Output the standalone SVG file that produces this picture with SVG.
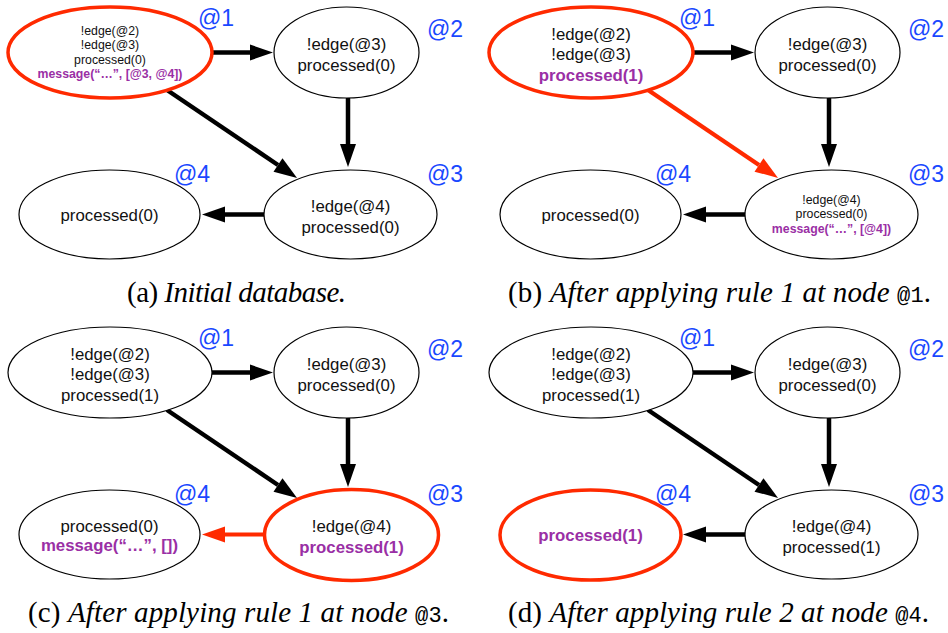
<svg xmlns="http://www.w3.org/2000/svg" width="948" height="633" viewBox="0 0 948 633">
  <style>
    .node ellipse { fill: #fff; stroke: #000; stroke-width: 1.2; }
    .node.hot ellipse { stroke: #FF2A00; stroke-width: 3.5; }
    .node text { font-family: "Liberation Sans", Arial, sans-serif; fill: #111; text-anchor: middle; }
    .big { font-size: 16.8px; }
    .small { font-size: 12.3px; }
    .node text.msg { fill: #9A2FA5; font-weight: bold; }
    .node text.lbl { font-size: 23px; fill: #1A48FF; text-anchor: start; }
    .edge { stroke: #000; stroke-width: 4.5; fill: none; marker-end: url(#head); }
    .edge.hot { stroke: #FF2A00; stroke-width: 4.2; marker-end: url(#headHot); }
    .cap { font-family: "Liberation Serif", "Times New Roman", serif; font-size: 29px; fill: #000; }
    .cap .it { font-style: italic; }
    .cap .tt { font-family: "Liberation Mono", "Courier New", monospace; font-size: 22px; }
  </style>
  <defs>
    <!-- arrowheads sit with their base on the line end -->
    <marker id="head" markerUnits="userSpaceOnUse" markerWidth="24" markerHeight="17" refX="0" refY="8" orient="auto" overflow="visible">
      <path d="M0,0 L23,8 L0,16 Z" fill="#000"/>
    </marker>
    <marker id="headHot" markerUnits="userSpaceOnUse" markerWidth="24" markerHeight="17" refX="0" refY="8" orient="auto" overflow="visible">
      <path d="M0,0 L23,8 L0,16 Z" fill="#FF2A00"/>
    </marker>
  </defs>
  <rect width="948" height="633" fill="#fff"/>

  <!-- (a) initial database -->
  <g id="panel-a">
    <g id="a-connectors">
      <line class="edge" x1="212" y1="52.5" x2="250" y2="52.5"/>
      <line class="edge" x1="167" y1="90" x2="278" y2="165"/>
      <line class="edge" x1="348" y1="98" x2="348" y2="144"/>
      <line class="edge" x1="264" y1="214.5" x2="225" y2="214.5"/>
    </g>
    <g id="a-n1" class="node hot">
      <ellipse cx="110" cy="52.5" rx="102" ry="45.5"/>
      <text class="small" x="110" y="35">!edge(@2)</text>
      <text class="small" x="110" y="49.3">!edge(@3)</text>
      <text class="small" x="110" y="63.6">processed(0)</text>
      <text class="small msg" x="110" y="77.9">message(“…”, [@3, @4])</text>
      <text class="lbl" x="198" y="26">@1</text>
    </g>
    <g id="a-n2" class="node">
      <ellipse cx="346.5" cy="52.5" rx="72.5" ry="45.5"/>
      <text class="big" x="346.5" y="50">!edge(@3)</text>
      <text class="big" x="346.5" y="70.7">processed(0)</text>
      <text class="lbl" x="427" y="37">@2</text>
    </g>
    <g id="a-n3" class="node">
      <ellipse cx="350.5" cy="214.5" rx="86.5" ry="44.5"/>
      <text class="big" x="350.5" y="212">!edge(@4)</text>
      <text class="big" x="350.5" y="232.7">processed(0)</text>
      <text class="lbl" x="427" y="182">@3</text>
    </g>
    <g id="a-n4" class="node">
      <ellipse cx="109.5" cy="214.5" rx="90.5" ry="44.5"/>
      <text class="big" x="109.5" y="220.5">processed(0)</text>
      <text class="lbl" x="174" y="182">@4</text>
    </g>
    <text class="cap" x="127" y="302" textLength="219" lengthAdjust="spacing">(a) <tspan class="it">Initial database.</tspan></text>
  </g>

  <!-- (b) after rule 1 at @1 -->
  <g id="panel-b" transform="translate(481,0)">
    <g id="b-connectors">
      <line class="edge" x1="212" y1="52.5" x2="250" y2="52.5"/>
      <line class="edge hot" x1="167" y1="90" x2="278" y2="165"/>
      <line class="edge" x1="348" y1="98" x2="348" y2="144"/>
      <line class="edge" x1="264" y1="214.5" x2="225" y2="214.5"/>
    </g>
    <g id="b-n1" class="node hot">
      <ellipse cx="110" cy="52.5" rx="102" ry="45.5"/>
      <text class="big" x="110" y="39.5">!edge(@2)</text>
      <text class="big" x="110" y="60">!edge(@3)</text>
      <text class="big msg" x="110" y="80.5">processed(1)</text>
      <text class="lbl" x="198" y="26">@1</text>
    </g>
    <g id="b-n2" class="node">
      <ellipse cx="346.5" cy="52.5" rx="72.5" ry="45.5"/>
      <text class="big" x="346.5" y="50">!edge(@3)</text>
      <text class="big" x="346.5" y="70.7">processed(0)</text>
      <text class="lbl" x="427" y="37">@2</text>
    </g>
    <g id="b-n3" class="node">
      <ellipse cx="350.5" cy="214.5" rx="86.5" ry="44.5"/>
      <text class="small" x="350.5" y="204">!edge(@4)</text>
      <text class="small" x="350.5" y="218.3">processed(0)</text>
      <text class="small msg" x="350.5" y="232.6">message(“…”, [@4])</text>
      <text class="lbl" x="427" y="182">@3</text>
    </g>
    <g id="b-n4" class="node">
      <ellipse cx="109.5" cy="214.5" rx="90.5" ry="44.5"/>
      <text class="big" x="109.5" y="220.5">processed(0)</text>
      <text class="lbl" x="174" y="182">@4</text>
    </g>
    <text class="cap" x="27" y="302" textLength="423" lengthAdjust="spacing">(b) <tspan class="it">After applying rule 1 at node </tspan><tspan class="tt">@1</tspan>.</text>
  </g>

  <!-- (c) after rule 1 at @3 -->
  <g id="panel-c" transform="translate(0,320)">
    <g id="c-connectors">
      <line class="edge" x1="212" y1="52.5" x2="250" y2="52.5"/>
      <line class="edge" x1="167" y1="90" x2="278" y2="165"/>
      <line class="edge" x1="348" y1="98" x2="348" y2="144"/>
      <line class="edge hot" x1="264" y1="214.5" x2="225" y2="214.5"/>
    </g>
    <g id="c-n1" class="node">
      <ellipse cx="110" cy="52.5" rx="102" ry="45.5"/>
      <text class="big" x="110" y="39.5">!edge(@2)</text>
      <text class="big" x="110" y="60">!edge(@3)</text>
      <text class="big" x="110" y="80.5">processed(1)</text>
      <text class="lbl" x="198" y="26">@1</text>
    </g>
    <g id="c-n2" class="node">
      <ellipse cx="346.5" cy="52.5" rx="72.5" ry="45.5"/>
      <text class="big" x="346.5" y="50">!edge(@3)</text>
      <text class="big" x="346.5" y="70.7">processed(0)</text>
      <text class="lbl" x="427" y="37">@2</text>
    </g>
    <g id="c-n3" class="node hot">
      <ellipse cx="351.5" cy="215" rx="87" ry="45.5"/>
      <text class="big" x="351.5" y="212">!edge(@4)</text>
      <text class="big msg" x="351.5" y="232.7">processed(1)</text>
      <text class="lbl" x="427" y="182">@3</text>
    </g>
    <g id="c-n4" class="node">
      <ellipse cx="109.5" cy="214.5" rx="90.5" ry="44.5"/>
      <text class="big" x="109.5" y="211.5">processed(0)</text>
      <text class="big msg" x="109.5" y="231">message(“…”, [])</text>
      <text class="lbl" x="174" y="182">@4</text>
    </g>
    <text class="cap" x="28" y="302" textLength="421" lengthAdjust="spacing">(c) <tspan class="it">After applying rule 1 at node </tspan><tspan class="tt">@3</tspan>.</text>
  </g>

  <!-- (d) after rule 2 at @4 -->
  <g id="panel-d" transform="translate(481,320)">
    <g id="d-connectors">
      <line class="edge" x1="212" y1="52.5" x2="250" y2="52.5"/>
      <line class="edge" x1="167" y1="90" x2="278" y2="165"/>
      <line class="edge" x1="348" y1="98" x2="348" y2="144"/>
      <line class="edge" x1="264" y1="214.5" x2="225" y2="214.5"/>
    </g>
    <g id="d-n1" class="node">
      <ellipse cx="110" cy="52.5" rx="102" ry="45.5"/>
      <text class="big" x="110" y="39.5">!edge(@2)</text>
      <text class="big" x="110" y="60">!edge(@3)</text>
      <text class="big" x="110" y="80.5">processed(1)</text>
      <text class="lbl" x="198" y="26">@1</text>
    </g>
    <g id="d-n2" class="node">
      <ellipse cx="346.5" cy="52.5" rx="72.5" ry="45.5"/>
      <text class="big" x="346.5" y="50">!edge(@3)</text>
      <text class="big" x="346.5" y="70.7">processed(0)</text>
      <text class="lbl" x="427" y="37">@2</text>
    </g>
    <g id="d-n3" class="node">
      <ellipse cx="350.5" cy="214.5" rx="86.5" ry="44.5"/>
      <text class="big" x="350.5" y="212">!edge(@4)</text>
      <text class="big" x="350.5" y="232.7">processed(1)</text>
      <text class="lbl" x="427" y="182">@3</text>
    </g>
    <g id="d-n4" class="node hot">
      <ellipse cx="109.5" cy="215" rx="90.5" ry="45"/>
      <text class="big msg" x="109.5" y="221">processed(1)</text>
      <text class="lbl" x="174" y="182">@4</text>
    </g>
    <text class="cap" x="27" y="302" textLength="421" lengthAdjust="spacing">(d) <tspan class="it">After applying rule 2 at node </tspan><tspan class="tt">@4</tspan>.</text>
  </g>
</svg>
